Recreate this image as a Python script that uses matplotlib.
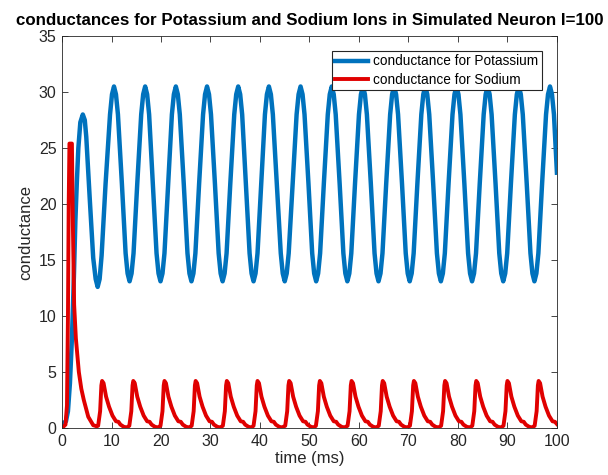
import matplotlib.pyplot as plt

# potassium conductance, sampled per cycle (time in ms)
gk_start_t = [0.0, 0.8, 1.2, 1.6, 2.0, 2.4, 2.7, 3.0, 3.3, 3.7, 4.2, 4.6, 4.9, 5.6, 6.3,
              6.8, 7.2, 7.6, 8.0, 8.8, 9.7, 10.1]
gk_start_v = [0.35, 0.6, 1.5, 4.0, 8.0, 13.5, 18.5, 22.0, 25.0, 27.3, 28.0, 27.5, 26.0, 20.5, 15.2,
              13.3, 12.6, 13.3, 15.4, 21.8, 28.0, 29.8]

gk_cycle_t = [
    [10.5, 10.9, 11.3, 12.1, 12.85, 13.25, 13.65, 14.05, 14.45, 15.2, 16.0, 16.4],
    [16.8, 17.2, 17.6, 18.35, 19.1, 19.5, 19.9, 20.3, 20.7, 21.45, 22.2, 22.6],
    [23.0, 23.4, 23.8, 24.6, 25.35, 25.75, 26.15, 26.55, 26.95, 27.7, 28.5, 28.9],
    [29.3, 29.7, 30.1, 30.9, 31.65, 32.05, 32.45, 32.85, 33.25, 34.0, 34.8, 35.2],
    [35.6, 36.0, 36.4, 37.15, 37.9, 38.3, 38.7, 39.1, 39.5, 40.25, 41.0, 41.4],
    [41.8, 42.2, 42.6, 43.4, 44.2, 44.6, 45.0, 45.4, 45.8, 46.6, 47.4, 47.8],
    [48.2, 48.6, 49.0, 49.8, 50.55, 50.95, 51.35, 51.75, 52.15, 52.9, 53.7, 54.1],
    [54.5, 54.9, 55.3, 56.1, 56.85, 57.25, 57.65, 58.05, 58.45, 59.2, 60.0, 60.4],
    [60.8, 61.2, 61.6, 62.4, 63.15, 63.55, 63.95, 64.35, 64.75, 65.5, 66.3, 66.7],
    [67.1, 67.5, 67.9, 68.7, 69.45, 69.85, 70.25, 70.65, 71.05, 71.8, 72.6, 73.0],
    [73.4, 73.8, 74.2, 75.0, 75.75, 76.15, 76.55, 76.95, 77.35, 78.1, 78.9, 79.3],
    [79.7, 80.1, 80.5, 81.3, 82.05, 82.45, 82.85, 83.25, 83.65, 84.4, 85.2, 85.6],
    [86.0, 86.4, 86.8, 87.6, 88.35, 88.75, 89.15, 89.55, 89.95, 90.7, 91.5, 91.9],
    [92.3, 92.7, 93.1, 93.9, 94.65, 95.05, 95.45, 95.85, 96.25, 97.0, 97.8, 98.2],
]
gk_cycle_v = [30.5, 29.8, 28.0, 21.8, 15.6, 13.8, 13.1, 13.8, 15.6, 21.8, 28.0, 29.8]

gk_end_t = [98.6, 99.0, 99.4, 100.0]
gk_end_v = [30.5, 29.8, 28.0, 22.8]

# sodium conductance: first big spike, then the repeating small spikes
gna_start_t = [0.0, 0.7, 1.0, 1.2, 1.35, 1.5, 2.0, 2.2, 2.45, 2.8, 3.1, 3.4, 3.9, 4.4, 5.3, 6.3, 7.0]
gna_start_v = [0.0, 0.3, 2.0, 10.0, 20.0, 25.4, 25.4, 18.0, 11.0, 8.0, 6.5, 5.0, 3.5, 2.5, 1.0, 0.25, 0.15]

gna_spike_t = [
    [7.3, 7.7, 7.95, 8.1, 8.4, 8.9, 9.5, 10.2, 10.9, 11.4, 11.8, 12.5, 13.1],
    [13.6, 14.0, 14.25, 14.4, 14.7, 15.2, 15.8, 16.5, 17.2, 17.7, 18.1, 18.8, 19.4],
    [19.9, 20.3, 20.55, 20.7, 21.0, 21.5, 22.1, 22.8, 23.5, 24.0, 24.4, 25.1, 25.7],
    [26.2, 26.6, 26.85, 27.0, 27.3, 27.8, 28.4, 29.1, 29.8, 30.3, 30.7, 31.4, 32.0],
    [32.5, 32.9, 33.15, 33.3, 33.6, 34.1, 34.7, 35.4, 36.1, 36.6, 37.0, 37.7, 38.3],
    [38.7, 39.1, 39.35, 39.5, 39.8, 40.3, 40.9, 41.6, 42.3, 42.8, 43.2, 43.9, 44.5],
    [45.1, 45.5, 45.75, 45.9, 46.2, 46.7, 47.3, 48.0, 48.7, 49.2, 49.6, 50.3, 50.9],
    [51.3, 51.7, 51.95, 52.1, 52.4, 52.9, 53.5, 54.2, 54.9, 55.4, 55.8, 56.5, 57.1],
    [57.7, 58.1, 58.35, 58.5, 58.8, 59.3, 59.9, 60.6, 61.3, 61.8, 62.2, 62.9, 63.5],
    [64.0, 64.4, 64.65, 64.8, 65.1, 65.6, 66.2, 66.9, 67.6, 68.1, 68.5, 69.2, 69.8],
    [70.3, 70.7, 70.95, 71.1, 71.4, 71.9, 72.5, 73.2, 73.9, 74.4, 74.8, 75.5, 76.1],
    [76.6, 77.0, 77.25, 77.4, 77.7, 78.2, 78.8, 79.5, 80.2, 80.7, 81.1, 81.8, 82.4],
    [82.9, 83.3, 83.55, 83.7, 84.0, 84.5, 85.1, 85.8, 86.5, 87.0, 87.4, 88.1, 88.7],
    [89.2, 89.6, 89.85, 90.0, 90.3, 90.8, 91.4, 92.1, 92.8, 93.3, 93.7, 94.4, 95.0],
]
gna_spike_v = [0.2, 1.5, 3.8, 4.2, 4.0, 2.8, 1.9, 1.1, 0.6, 0.55, 0.3, 0.1, 0.05]

gna_end_t = [95.5, 95.9, 96.15, 96.3, 96.6, 97.1, 97.7, 98.4, 99.1, 99.6, 100.0]
gna_end_v = [0.2, 1.5, 3.8, 4.2, 4.0, 2.8, 1.9, 1.1, 0.6, 0.55, 0.35]

t_k = gk_start_t + sum(gk_cycle_t, []) + gk_end_t
g_k = gk_start_v + gk_cycle_v * len(gk_cycle_t) + gk_end_v
t_na = gna_start_t + sum(gna_spike_t, []) + gna_end_t
g_na = gna_start_v + gna_spike_v * len(gna_spike_t) + gna_end_v

plt.rcParams['font.family'] = ['Liberation Sans', 'DejaVu Sans']
axis_col = '#262626'

fig = plt.figure(figsize=(6.08, 4.75), dpi=100)
ax = fig.add_axes([0.102, 0.099, 0.814, 0.825])

ax.plot(t_k, g_k, color='#0072BD', linewidth=3.2, label='conductance for Potassium')
ax.plot(t_na, g_na, color='#E00000', linewidth=2.8, label='conductance for Sodium')

ax.set_xlim(0, 100)
ax.set_ylim(0, 35)
ax.set_xticks(range(0, 101, 10))
ax.set_yticks(range(0, 36, 5))
ax.tick_params(direction='in', top=True, right=True, length=4, width=0.6,
               labelsize=11.5, colors=axis_col, pad=4)
for s in ax.spines.values():
    s.set_color(axis_col)
    s.set_linewidth(0.6)

ax.set_xlabel('time (ms)', fontsize=12, color=axis_col, labelpad=2)
ax.set_ylabel('conductance', fontsize=12, color=axis_col, labelpad=4)
ax.set_title('conductances for Potassium and Sodium Ions in Simulated Neuron I=100',
             fontsize=12.2, fontweight='bold', pad=8)

leg = ax.legend(loc='upper right', fontsize=9.8, fancybox=False, framealpha=1,
                edgecolor=axis_col, handlelength=2.4, borderaxespad=1.1,
                borderpad=0.25, labelspacing=0.3, handletextpad=0.4)
leg.get_frame().set_linewidth(0.8)

fig.savefig('out.png', dpi=100)
